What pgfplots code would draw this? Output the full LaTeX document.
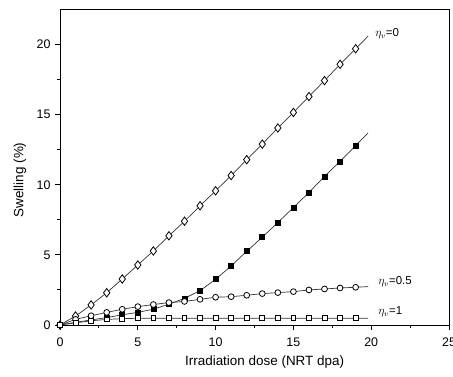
\documentclass[border=0pt]{standalone}
\usepackage{pgfplots}
\pgfplotsset{compat=1.18}
\usepackage{fontspec}
\setmainfont{Liberation Sans}
\begin{document}
\begin{tikzpicture}
\begin{axis}[
  scale only axis, width=389bp, height=315.5bp,
  xmin=0, xmax=25, ymin=0, ymax=22.5,
  xtick={0,5,...,25}, ytick={0,5,...,20},
  minor xtick={2.5,7.5,...,22.5}, minor ytick={2.5,7.5,...,17.5},
  tick pos=left, tick align=outside,
  major tick length=5bp, minor tick length=3bp,
  every tick/.style={black, line width=0.9pt},
  axis line style={line width=1pt},
  /pgf/number format/assume math mode=true,
  ticklabel style={font=\fontsize{12.5}{14}\selectfont},
  xticklabel style={yshift=-4bp},
  yticklabel style={xshift=-1bp},
  xlabel={Irradiation dose (NRT dpa)}, ylabel={Swelling (\%)},
  label style={font=\fontsize{13.5}{15}\selectfont},
  xlabel style={at={(axis description cs:0.526,-0.117)}, anchor=center},
  ylabel style={at={(axis description cs:-0.1028,0.46)}, anchor=center},
  clip=false,
]
% eta_v = 0 (open diamonds)
\addplot[black!80, line width=0.7pt, mark=diamond*, mark size=4.2bp,
  mark options={fill=white, draw=black, line width=0.8pt},
  mark indices={1,...,20}] coordinates {
 (0,0) (1,0.64) (2,1.43) (3,2.3) (4,3.28) (5,4.28) (6,5.28) (7,6.36) (8,7.4) (9,8.5)
 (10,9.57) (11,10.66) (12,11.79) (13,12.9) (14,14.05) (15,15.16) (16,16.29) (17,17.43)
 (18,18.59) (19,19.7) (19.8,20.6)};
% filled squares
\addplot[black!80, line width=0.7pt, mark=square*, mark size=2.5bp,
  mark options={fill=black, draw=black},
  mark indices={1,...,20}] coordinates {
 (0,0) (1,0.19) (2,0.36) (3,0.53) (4,0.73) (5,0.9) (6,1.13) (7,1.48) (8,1.9) (9,2.45)
 (10,3.26) (11,4.21) (12,5.26) (13,6.26) (14,7.31) (15,8.38) (16,9.45) (17,10.6)
 (18,11.67) (19,12.79) (19.8,13.7)};
% eta_v = 0.5 (open circles)
\addplot[black!80, line width=0.7pt, mark=*, mark size=2.9bp,
  mark options={fill=white, draw=black, line width=0.8pt},
  mark indices={1,...,20}] coordinates {
 (0,0) (1,0.4) (2,0.66) (3,0.9) (4,1.12) (5,1.31) (6,1.46) (7,1.6) (8,1.68) (9,1.83)
 (10,1.98) (11,2.02) (12,2.12) (13,2.24) (14,2.31) (15,2.38) (16,2.5) (17,2.57)
 (18,2.64) (19,2.69) (19.8,2.74)};
% eta_v = 1 (open squares)
\addplot[black!80, line width=0.7pt, mark=square*, mark size=2.4bp,
  mark options={fill=white, draw=black, line width=0.8pt},
  mark indices={1,...,20}] coordinates {
 (0,0) (1,0.15) (2,0.3) (3,0.4) (4,0.45) (5,0.48) (6,0.48) (7,0.48) (8,0.48) (9,0.48)
 (10,0.48) (11,0.48) (12,0.48) (13,0.48) (14,0.48) (15,0.48) (16,0.48) (17,0.48)
 (18,0.48) (19,0.48) (19.8,0.48)};
\node[anchor=west, font=\fontsize{11.5}{13}\selectfont, inner sep=0pt] at (axis cs:20.25,20.75) {$\eta_v$=0};
\node[anchor=west, font=\fontsize{11.5}{13}\selectfont, inner sep=0pt] at (axis cs:20.45,3.09) {$\eta_v$=0.5};
\node[anchor=west, font=\fontsize{11.5}{13}\selectfont, inner sep=0pt] at (axis cs:20.45,0.95) {$\eta_v$=1};
\end{axis}
\pgfresetboundingbox
\path ([shift={(-60bp,-52bp)}]current axis.south west) rectangle ([shift={(4bp,9.5bp)}]current axis.north east);
\end{tikzpicture}
\end{document}
